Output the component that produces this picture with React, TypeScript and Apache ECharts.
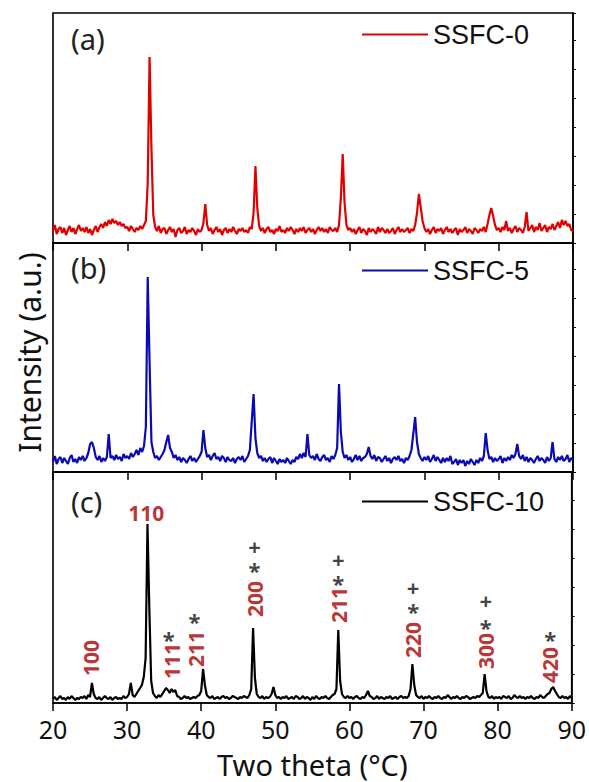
import React, { useEffect, useRef } from "react";
import * as echarts from "echarts";

// sampling of the patterns (degrees two theta)
const START = 20;
const STEP = 0.25;

// (a) SSFC-0 intensities (a.u.)
const ssfc0 = [
  12, 18, 9, 14, 16, 10, 15, 8, 13, 17, 11, 15, 9, 14, 18, 12,
  15, 11, 16, 10, 14, 8, 13, 17, 11, 16, 19, 15, 21, 17, 23, 19,
  24, 20, 22, 18, 21, 17, 19, 15, 16, 12, 17, 14, 11, 15, 13, 17,
  14, 18, 22, 60, 186, 95, 28, 16, 12, 17, 10, 14, 15, 9, 13, 16,
  11, 14, 6, 13, 15, 10, 12, 16, 9, 13, 11, 15, 12, 8, 14, 11,
  13, 20, 39, 18, 12, 15, 9, 13, 16, 11, 14, 8, 13, 15, 10, 14,
  11, 16, 12, 9, 14, 12, 15, 11, 13, 10, 16, 14, 30, 77, 35, 17,
  12, 15, 10, 14, 16, 11, 13, 9, 14, 12, 17, 11, 13, 10, 15, 12,
  16, 13, 9, 14, 11, 15, 12, 16, 10, 13, 15, 11, 14, 9, 13, 16,
  12, 15, 11, 14, 10, 16, 13, 12, 15, 11, 18, 45, 89, 40, 18, 13,
  15, 11, 14, 9, 13, 16, 10, 14, 12, 8, 15, 11, 14, 12, 9, 16,
  11, 15, 13, 10, 14, 10, 12, 15, 9, 13, 16, 11, 14, 11, 13, 15,
  10, 14, 12, 18, 30, 49, 36, 22, 15, 11, 14, 9, 13, 16, 10, 14,
  12, 15, 9, 13, 16, 11, 14, 10, 13, 15, 8, 14, 11, 13, 16, 10,
  14, 12, 9, 15, 13, 10, 14, 12, 16, 11, 19, 28, 35, 27, 18, 13,
  15, 11, 16, 13, 22, 12, 15, 10, 14, 17, 11, 15, 13, 10, 16, 31,
  12, 15, 18, 11, 16, 13, 20, 12, 15, 18, 11, 16, 14, 19, 13, 17,
  21, 15, 23, 18, 22, 17, 19, 13, 12,
];

// (b) SSFC-5
const ssfc5 = [
  10, 16, 8, 13, 15, 9, 14, 11, 8, 14, 17, 10, 13, 9, 15, 12,
  16, 11, 14, 19, 28, 30, 24, 15, 12, 16, 10, 14, 11, 15, 38, 14,
  16, 12, 17, 13, 15, 11, 18, 14, 16, 13, 19, 15, 18, 22, 17, 24,
  20, 26, 45, 195, 110, 30, 20, 14, 16, 12, 15, 18, 22, 30, 37, 24,
  20, 14, 17, 12, 15, 10, 14, 12, 9, 13, 16, 11, 14, 10, 13, 16,
  20, 42, 24, 15, 17, 12, 16, 19, 13, 15, 11, 16, 14, 10, 15, 12,
  11, 14, 9, 13, 15, 12, 16, 10, 13, 16, 22, 50, 78, 34, 19, 14,
  16, 11, 14, 10, 13, 15, 9, 14, 11, 8, 13, 10, 12, 9, 14, 11,
  8, 12, 10, 15, 13, 18, 14, 19, 15, 38, 17, 14, 16, 12, 18, 13,
  11, 15, 17, 12, 14, 10, 16, 13, 17, 24, 88, 40, 20, 14, 17, 12,
  15, 10, 13, 17, 12, 16, 11, 14, 15, 18, 25, 16, 13, 17, 11, 15,
  14, 10, 13, 16, 11, 14, 9, 13, 15, 12, 16, 11, 13, 9, 14, 12,
  16, 22, 38, 55, 30, 18, 14, 11, 15, 12, 16, 10, 13, 17, 11, 15,
  12, 9, 14, 10, 14, 11, 16, 8, 10, 13, 7, 12, 9, 12, 6, 11,
  8, 13, 10, 7, 12, 9, 14, 11, 16, 39, 22, 13, 15, 10, 14, 11,
  13, 16, 9, 14, 11, 15, 12, 17, 14, 18, 28, 16, 13, 17, 11, 15,
  10, 14, 12, 9, 13, 16, 11, 14, 12, 9, 15, 11, 14, 30, 13, 10,
  15, 12, 16, 11, 13, 17, 10, 14, 12,
];

// (c) SSFC-10
const ssfc10 = [
  4, 6, 3, 5, 7, 4, 5, 3, 6, 4, 7, 5, 3, 5, 4, 6,
  5, 7, 4, 8, 6, 20, 9, 5, 4, 6, 3, 5, 7, 5, 4, 6,
  3, 5, 6, 4, 5, 4, 7, 5, 6, 9, 20, 8, 6, 9, 12, 15,
  18, 26, 45, 179, 95, 22, 10, 7, 5, 8, 6, 9, 12, 15, 13, 10,
  14, 11, 13, 7, 6, 4, 5, 7, 5, 6, 4, 5, 6, 5, 7, 8,
  12, 34, 18, 8, 6, 5, 7, 4, 5, 6, 4, 6, 7, 5, 6, 4,
  5, 7, 6, 5, 4, 6, 5, 7, 6, 5, 8, 14, 75, 25, 9, 6,
  5, 7, 4, 6, 5, 6, 9, 16, 8, 5, 6, 4, 6, 5, 7, 4,
  5, 6, 4, 7, 6, 4, 5, 7, 4, 6, 5, 3, 6, 4, 7, 5,
  4, 6, 5, 7, 5, 4, 6, 8, 9, 14, 73, 22, 9, 6, 5, 7,
  5, 6, 4, 6, 7, 5, 4, 6, 5, 8, 12, 7, 6, 4, 5, 7,
  4, 6, 5, 4, 6, 5, 7, 4, 5, 6, 4, 6, 7, 5, 6, 5,
  7, 14, 39, 18, 8, 6, 5, 7, 4, 6, 5, 7, 5, 4, 6, 5,
  7, 5, 4, 6, 5, 8, 6, 4, 6, 5, 7, 5, 4, 6, 5, 7,
  6, 4, 5, 6, 5, 7, 6, 8, 10, 29, 12, 6, 5, 7, 4, 6,
  5, 6, 4, 7, 6, 5, 7, 4, 5, 8, 6, 5, 7, 5, 6, 4,
  6, 5, 7, 5, 4, 6, 5, 8, 6, 5, 7, 9, 10, 14, 16, 12,
  9, 6, 5, 7, 5, 6, 4, 7, 5,
];

const seriesNames = ["SSFC-0", "SSFC-5", "SSFC-10"];
const seriesColors = ["#e00000", "#0a0ab4", "#000000"];
const panelLabels = ["(a)", "(b)", "(c)"];

// Miller-index annotations in panel (c): [two theta, height, text]
const hklRotated: [number, number, string][] = [
  [25.1, 45, "100"],
  [36.1, 42, "111"],
  [39.3, 54, "211"],
  [47.2, 104, "200"],
  [58.6, 98, "211"],
  [68.6, 63, "220"],
  [78.4, 52, "300"],
  [87.1, 38, "420"],
];
const hklFlat: [number, number, string][] = [[32.6, 190, "110"]];
const starMarks: [number, number][] = [
  [35.6, 69], [39.1, 87], [47.2, 138], [58.5, 125], [68.6, 97], [78.4, 81], [87.1, 69],
];
const plusMarks: [number, number][] = [
  [47.2, 157], [58.5, 144], [68.6, 116], [78.4, 103],
];

const GRID_TOPS = [13, 243, 472];
const GRID_HEIGHTS = [230, 229, 231];
const RIGHT_TICK_MIN = [-20, -20, -25];

export default function App() {
  const ref = useRef<HTMLDivElement>(null);

  useEffect(() => {
    if (!ref.current) return;
    const chart = echarts.init(ref.current, undefined, { renderer: "svg" });
    const font = "Noto Sans";
    const allData = [ssfc0, ssfc5, ssfc10];

    const grids = GRID_TOPS.map((top, i) => ({
      left: 53,
      right: 16,
      top,
      height: GRID_HEIGHTS[i],
      show: true,
      borderColor: "#000",
      borderWidth: 1.6,
      backgroundColor: "transparent",
    }));

    const xAxes = [0, 1, 2].map((i) => ({
      type: "value",
      gridIndex: i,
      min: 20,
      max: 90,
      interval: 10,
      axisLine: { show: true, lineStyle: { color: "#000", width: 1.6 } },
      axisTick: { show: true, inside: false, length: 8, lineStyle: { color: "#000", width: 1.5 } },
      axisLabel: {
        show: i === 2,
        fontSize: 25,
        fontFamily: font,
        color: "#111",
        margin: 13,
      },
      splitLine: { show: false },
      name: i === 2 ? "Two theta (°C)" : "",
      nameLocation: "middle",
      nameGap: 46,
      nameTextStyle: { fontSize: 29, lineHeight: 30, fontFamily: font, color: "#111" },
    }));

    const yLeft = [0, 1, 2].map((i) => ({
      type: "value",
      gridIndex: i,
      min: 0,
      max: GRID_HEIGHTS[i],
      axisLine: { show: false },
      axisTick: { show: false },
      axisLabel: { show: false },
      splitLine: { show: false },
      name: i === 1 ? "Intensity (a.u.)" : "",
      nameLocation: "middle",
      nameGap: 9,
      nameRotate: 90,
      nameTextStyle: { fontSize: 30, fontFamily: font, color: "#111", padding: [0, 0, 0, 10] },
    }));

    const yRight = [0, 1, 2].map((i) => ({
      type: "value",
      gridIndex: i,
      position: "right",
      min: RIGHT_TICK_MIN[i],
      max: RIGHT_TICK_MIN[i] + GRID_HEIGHTS[i],
      interval: 29,
      axisLine: { show: true, lineStyle: { color: "#000", width: 1.6 } },
      axisTick: { show: true, inside: false, length: 3, lineStyle: { color: "#000", width: 1 } },
      axisLabel: { show: false },
      splitLine: { show: false },
    }));

    const lineSeries = allData.map((vals, i) => ({
      name: seriesNames[i],
      type: "line",
      xAxisIndex: i,
      yAxisIndex: i,
      data: vals.map((v, k) => [START + k * STEP, v]),
      showSymbol: false,
      symbol: "none",
      lineStyle: { color: seriesColors[i], width: 2.2 },
      itemStyle: { color: seriesColors[i] },
      silent: true,
      z: 3,
    }));

    const labelBase = {
      show: true,
      position: "inside",
      fontFamily: font,
      fontWeight: "bold",
    };
    const markerSeries = (data: { name: string; value: number[] }[], label: any) => ({
      type: "scatter",
      xAxisIndex: 2,
      yAxisIndex: 2,
      symbol: "circle",
      symbolSize: 1,
      itemStyle: { color: "rgba(0,0,0,0)" },
      silent: true,
      data,
      label: { ...labelBase, formatter: "{b}", ...label },
      z: 5,
    });

    const option = {
      animation: false,
      backgroundColor: "#fff",
      title: panelLabels.map((t, i) => ({
        text: t,
        left: 71,
        top: [24, 253, 487][i],
        padding: 0,
        textStyle: { fontSize: 29, fontWeight: "normal", fontFamily: font, color: "#222" },
      })),
      legend: seriesNames.map((n, i) => ({
        data: [n],
        left: 362,
        top: [21, 257, 488][i],
        padding: 0,
        icon: "rect",
        itemWidth: 66,
        itemHeight: 2,
        textStyle: { fontSize: 27, fontFamily: "Liberation Sans", color: "#111" },
        selectedMode: false,
      })),
      grid: grids,
      xAxis: xAxes,
      yAxis: [...yLeft, ...yRight],
      series: [
        ...lineSeries,
        markerSeries(
          hklRotated.map(([x, y, t]) => ({ name: t, value: [x, y] })),
          { rotate: 90, color: "#a80000", fontSize: 21 }
        ),
        markerSeries(
          hklFlat.map(([x, y, t]) => ({ name: t, value: [x, y] })),
          { color: "#a80000", fontSize: 21 }
        ),
        markerSeries(
          starMarks.map(([x, y]) => ({ name: "*", value: [x, y] })),
          { color: "#111", fontSize: 22, offset: [0, 5], lineHeight: 14 }
        ),
        markerSeries(
          plusMarks.map(([x, y]) => ({ name: "+", value: [x, y] })),
          { color: "#111", fontSize: 22, lineHeight: 14 }
        ),
      ],
    };

    chart.setOption(option as any);
    return () => chart.dispose();
  }, []);

  return (
    <div
      ref={ref}
      style={{ position: "fixed", left: 0, top: 0, width: 589, height: 782, background: "#fff" }}
    />
  );
}
